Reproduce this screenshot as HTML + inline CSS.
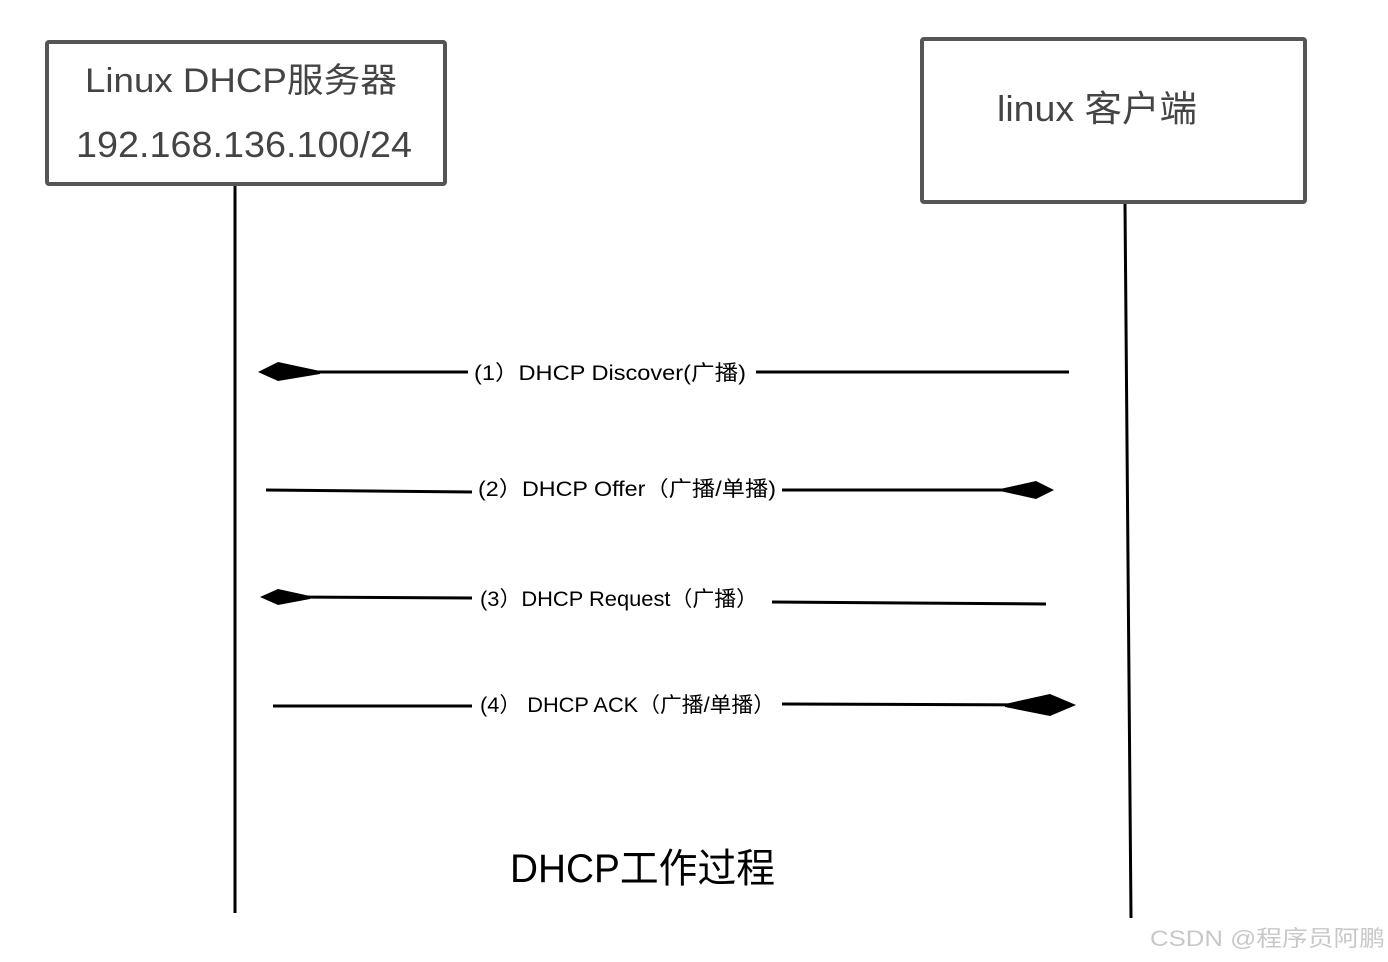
<!DOCTYPE html>
<html><head><meta charset="utf-8"><style>
html,body{margin:0;padding:0;background:#fff;}
svg{display:block;}
text{font-family:"Liberation Sans","Noto Sans CJK SC",sans-serif;}
</style></head><body>
<svg width="1388" height="962" viewBox="0 0 1388 962" xmlns="http://www.w3.org/2000/svg">
<rect width="1388" height="962" fill="#fff"/>
<rect x="47" y="42" width="398" height="142" fill="#fff" stroke="#555" stroke-width="4" rx="2"/>
<text x="85" y="92" font-size="34" fill="#444" textLength="312" lengthAdjust="spacingAndGlyphs">Linux DHCP服务器</text>
<text x="76" y="157" font-size="36" fill="#444" textLength="336" lengthAdjust="spacingAndGlyphs">192.168.136.100/24</text>
<rect x="922" y="39" width="383" height="163" fill="#fff" stroke="#555" stroke-width="4" rx="2"/>
<text x="997" y="121" font-size="36" fill="#444" textLength="200" lengthAdjust="spacingAndGlyphs">linux 客户端</text>
<line x1="235" y1="186" x2="235" y2="913" stroke="#000" stroke-width="3"/>
<line x1="1125" y1="204" x2="1131" y2="918" stroke="#000" stroke-width="3"/>
<line x1="300" y1="372" x2="468" y2="372" stroke="#000" stroke-width="3"/>
<line x1="756" y1="372" x2="1069" y2="372" stroke="#000" stroke-width="3"/>
<polygon points="258,372 278,362 320,371 320,374 278,381" fill="#000"/>
<text x="474" y="380" font-size="21" fill="#000" textLength="272" lengthAdjust="spacingAndGlyphs">(1）DHCP Discover(广播)</text>
<line x1="266" y1="490" x2="472" y2="492" stroke="#000" stroke-width="3"/>
<line x1="782" y1="490" x2="1020" y2="490" stroke="#000" stroke-width="3"/>
<polygon points="1054,490 1036,481 1000,489 1000,491 1036,499" fill="#000"/>
<text x="478" y="496" font-size="21" fill="#000" textLength="298" lengthAdjust="spacingAndGlyphs">(2）DHCP Offer（广播/单播)</text>
<line x1="290" y1="597" x2="472" y2="598" stroke="#000" stroke-width="3"/>
<line x1="772" y1="602" x2="1046" y2="604" stroke="#000" stroke-width="3"/>
<polygon points="260,597 278,589 310,596 310,599 278,605" fill="#000"/>
<text x="480" y="606" font-size="21" fill="#000" textLength="278" lengthAdjust="spacingAndGlyphs">(3）DHCP Request（广播）</text>
<line x1="273" y1="706" x2="472" y2="706" stroke="#000" stroke-width="3"/>
<line x1="782" y1="704" x2="1040" y2="705" stroke="#000" stroke-width="3"/>
<polygon points="1076,705 1050,694 1005,704 1005,707 1050,716" fill="#000"/>
<text x="480" y="712" font-size="21" fill="#000" textLength="295" lengthAdjust="spacingAndGlyphs">(4） DHCP ACK（广播/单播）</text>
<text x="510" y="882" font-size="40" fill="#000" textLength="265" lengthAdjust="spacingAndGlyphs">DHCP工作过程</text>
<text x="1150" y="946" font-size="22" fill="#c8c8c8" textLength="235" lengthAdjust="spacingAndGlyphs">CSDN @程序员阿鹏</text>
</svg>
</body></html>
